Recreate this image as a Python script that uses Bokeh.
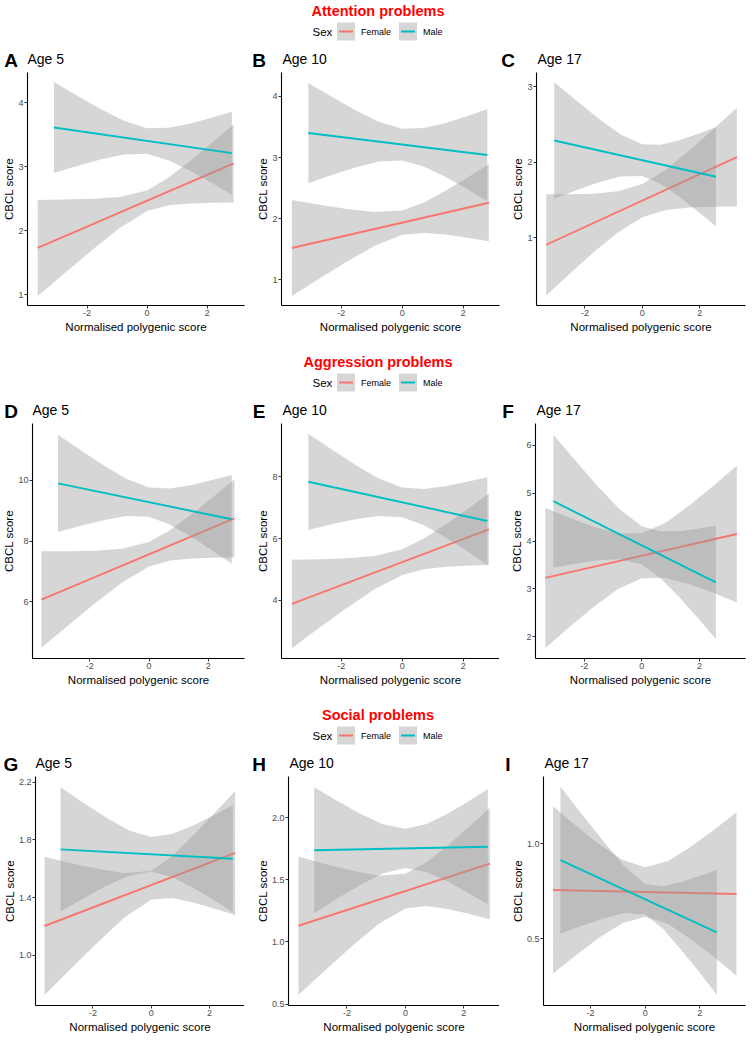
from bokeh.plotting import figure
from bokeh.layouts import column, row
from bokeh.models import Range1d, FixedTicker, NumeralTickFormatter
from bokeh.embed import file_html
from bokeh.resources import INLINE
from bokeh.core.properties import value

FONT = "Liberation Sans"
FEMALE_COLOR = "#F8766D"
MALE_COLOR = "#00BFC4"
BAND_COLOR = "#999999"

SECTION_TITLES = ["Attention problems", "Aggression problems", "Social problems"]
PANEL_LETTERS = [["A", "B", "C"], ["D", "E", "F"], ["G", "H", "I"]]
AGE_LABELS = ["Age 5", "Age 10", "Age 17"]
LEGEND_TITLE = "Sex"
SEX_LABELS = ["Female", "Male"]
X_LABEL = "Normalised polygenic score"
Y_LABEL = "CBCL score"
X_TICKS = [-2, 0, 2]

# ---- Attention problems ----
A_F_X = [-3.64, -2.73, -1.82, -0.91, 0.0, 0.72, 1.44, 2.16, 2.88]
A_F_LO = [0.98, 1.342, 1.699, 2.040, 2.307, 2.396, 2.423, 2.434, 2.44]
A_F_HI = [2.48, 2.486, 2.499, 2.526, 2.627, 2.830, 3.093, 3.374, 3.66]
A_F_FIT = [1.73, 3.05]
A_M_X = [-3.10, -2.325, -1.55, -0.775, 0.0, 0.705, 1.41, 2.115, 2.82]
A_M_LO = [2.90, 3.009, 3.110, 3.190, 3.200, 3.101, 2.939, 2.756, 2.565]
A_M_HI = [4.32, 4.107, 3.900, 3.716, 3.600, 3.605, 3.671, 3.758, 3.855]
A_M_FIT = [3.61, 3.21]
A_YTICKS = [1, 2, 3, 4]

B_F_X = [-3.62, -2.715, -1.81, -0.905, 0.0, 0.71, 1.42, 2.13, 2.84]
B_F_LO = [0.735, 1.021, 1.298, 1.555, 1.735, 1.766, 1.739, 1.688, 1.63]
B_F_HI = [2.305, 2.227, 2.156, 2.107, 2.135, 2.266, 2.457, 2.670, 2.89]
B_F_FIT = [1.52, 2.26]
B_M_X = [-3.08, -2.31, -1.54, -0.77, 0.0, 0.70, 1.40, 2.09, 2.79]
B_M_LO = [2.58, 2.714, 2.838, 2.933, 2.951, 2.854, 2.688, 2.495, 2.29]
B_M_HI = [4.22, 3.992, 3.774, 3.583, 3.471, 3.482, 3.562, 3.671, 3.79]
B_M_FIT = [3.40, 3.04]
B_YTICKS = [1, 2, 3, 4]

C_F_X = [-3.35, -2.51, -1.68, -0.84, 0.0, 0.825, 1.65, 2.475, 3.30]
C_F_LO = [0.24, 0.533, 0.816, 1.077, 1.274, 1.369, 1.403, 1.414, 1.415]
C_F_HI = [1.58, 1.579, 1.586, 1.619, 1.714, 1.907, 2.161, 2.438, 2.725]
C_F_FIT = [0.91, 2.07]
C_M_X = [-3.07, -2.30, -1.54, -0.77, 0.0, 0.64, 1.29, 1.93, 2.57]
C_M_LO = [1.52, 1.630, 1.734, 1.814, 1.819, 1.713, 1.544, 1.355, 1.155]
C_M_HI = [3.06, 2.818, 2.586, 2.374, 2.239, 2.235, 2.294, 2.375, 2.465]
C_M_FIT = [2.29, 1.81]
C_YTICKS = [1, 2, 3]

# ---- Aggression problems ----
D_F_X = [-3.63, -2.72, -1.82, -0.91, 0.0, 0.72, 1.44, 2.16, 2.88]
D_F_LO = [4.495, 5.235, 5.957, 6.641, 7.169, 7.361, 7.430, 7.456, 7.465]
D_F_HI = [7.665, 7.671, 7.687, 7.749, 7.969, 8.367, 8.890, 9.454, 10.035]
D_F_FIT = [6.08, 8.75]
D_M_X = [-3.07, -2.30, -1.54, -0.77, 0.0, 0.70, 1.40, 2.09, 2.79]
D_M_LO = [8.30, 8.504, 8.690, 8.824, 8.802, 8.550, 8.160, 7.721, 7.26]
D_M_HI = [11.50, 10.986, 10.494, 10.050, 9.762, 9.732, 9.840, 10.001, 10.18]
D_M_FIT = [9.90, 8.72]
D_YTICKS = [6, 8, 10]

E_F_X = [-3.62, -2.72, -1.81, -0.91, 0.0, 0.71, 1.42, 2.13, 2.84]
E_F_LO = [2.445, 3.105, 3.754, 4.353, 4.816, 5.002, 5.083, 5.121, 5.14]
E_F_HI = [5.315, 5.329, 5.362, 5.437, 5.656, 6.002, 6.453, 6.947, 7.46]
E_F_FIT = [3.88, 6.30]
E_M_X = [-3.08, -2.31, -1.54, -0.77, 0.0, 0.70, 1.40, 2.09, 2.79]
E_M_LO = [6.28, 6.461, 6.623, 6.733, 6.693, 6.437, 6.048, 5.610, 5.15]
E_M_HI = [9.40, 8.885, 8.391, 7.947, 7.653, 7.607, 7.694, 7.832, 7.99]
E_M_FIT = [7.84, 6.57]
E_YTICKS = [4, 6, 8]

F_F_X = [-3.35, -2.51, -1.68, -0.84, 0.0, 0.825, 1.65, 2.475, 3.30]
F_F_LO = [1.77, 2.208, 2.624, 2.993, 3.221, 3.227, 3.097, 2.919, 2.72]
F_F_HI = [4.69, 4.484, 4.296, 4.159, 4.161, 4.383, 4.739, 5.145, 5.57]
F_F_FIT = [3.23, 4.145]
F_M_X = [-3.07, -2.30, -1.54, -0.77, 0.0, 0.64, 1.29, 1.93, 2.57]
F_M_LO = [3.445, 3.527, 3.597, 3.620, 3.508, 3.229, 2.837, 2.405, 1.957]
F_M_HI = [6.215, 5.671, 5.145, 4.660, 4.308, 4.203, 4.205, 4.253, 4.317]
F_M_FIT = [4.83, 3.137]
F_YTICKS = [2, 3, 4, 5, 6]

# ---- Social problems ----
G_F_X = [-3.66, -2.75, -1.83, -0.92, 0.0, 0.72, 1.44, 2.16, 2.88]
G_F_LO = [0.725, 0.909, 1.091, 1.262, 1.387, 1.398, 1.367, 1.325, 1.280]
G_F_HI = [1.683, 1.639, 1.601, 1.570, 1.587, 1.688, 1.831, 1.983, 2.140]
G_F_FIT = [1.204, 1.71]
G_M_X = [-3.11, -2.33, -1.56, -0.78, 0.0, 0.70, 1.40, 2.10, 2.80]
G_M_LO = [1.305, 1.394, 1.479, 1.551, 1.581, 1.544, 1.473, 1.389, 1.300]
G_M_HI = [2.165, 2.058, 1.957, 1.867, 1.821, 1.842, 1.897, 1.967, 2.040]
G_M_FIT = [1.735, 1.67]
G_YTICKS = [1.0, 1.4, 1.8, 2.2]

H_F_X = [-3.66, -2.75, -1.83, -0.92, 0.0, 0.72, 1.44, 2.17, 2.89]
H_F_LO = [0.573, 0.771, 0.966, 1.145, 1.269, 1.288, 1.264, 1.226, 1.181]
H_F_HI = [1.687, 1.627, 1.574, 1.533, 1.549, 1.640, 1.774, 1.924, 2.079]
H_F_FIT = [1.13, 1.63]
H_M_X = [-3.12, -2.34, -1.56, -0.78, 0.0, 0.70, 1.41, 2.12, 2.82]
H_M_LO = [1.230, 1.347, 1.456, 1.550, 1.595, 1.564, 1.489, 1.398, 1.300]
H_M_HI = [2.244, 2.135, 2.032, 1.946, 1.909, 1.946, 2.027, 2.126, 2.230]
H_M_FIT = [1.737, 1.765]
H_YTICKS = [0.5, 1.0, 1.5, 2.0]

I_F_X = [-3.37, -2.53, -1.69, -0.84, 0.0, 0.84, 1.67, 2.51, 3.34]
I_F_LO = [0.317, 0.413, 0.505, 0.582, 0.616, 0.578, 0.498, 0.405, 0.306]
I_F_HI = [1.197, 1.095, 0.999, 0.916, 0.876, 0.910, 0.984, 1.073, 1.166]
I_F_FIT = [0.757, 0.736]
I_M_X = [-3.10, -2.33, -1.55, -0.78, 0.0, 0.66, 1.31, 1.97, 2.62]
I_M_LO = [0.527, 0.568, 0.605, 0.636, 0.628, 0.551, 0.443, 0.326, 0.206]
I_M_HI = [1.301, 1.158, 1.017, 0.884, 0.788, 0.777, 0.799, 0.830, 0.862]
I_M_FIT = [0.914, 0.534]
I_YTICKS = [0.5, 1.0]

# axis limits (ggplot-style expanded ranges)
X_LIMS = {"A": (-3.98, 3.24), "B": (-3.96, 3.19), "C": (-3.69, 3.60),
          "D": (-3.93, 3.22), "E": (-3.96, 3.19), "F": (-3.69, 3.60),
          "G": (-3.97, 3.20), "H": (-4.00, 3.22), "I": (-3.72, 3.67)}
Y_LIMS = {"A": (0.83, 4.47), "B": (0.58, 4.39), "C": (0.106, 3.19),
          "D": (4.14, 11.87), "E": (2.11, 9.73), "F": (1.55, 6.45),
          "G": (0.653, 2.24), "H": (0.489, 2.33), "I": (0.149, 1.354)}

PANELS = {
    "A": (A_F_X, A_F_LO, A_F_HI, A_F_FIT, A_M_X, A_M_LO, A_M_HI, A_M_FIT, A_YTICKS, "0"),
    "B": (B_F_X, B_F_LO, B_F_HI, B_F_FIT, B_M_X, B_M_LO, B_M_HI, B_M_FIT, B_YTICKS, "0"),
    "C": (C_F_X, C_F_LO, C_F_HI, C_F_FIT, C_M_X, C_M_LO, C_M_HI, C_M_FIT, C_YTICKS, "0"),
    "D": (D_F_X, D_F_LO, D_F_HI, D_F_FIT, D_M_X, D_M_LO, D_M_HI, D_M_FIT, D_YTICKS, "0"),
    "E": (E_F_X, E_F_LO, E_F_HI, E_F_FIT, E_M_X, E_M_LO, E_M_HI, E_M_FIT, E_YTICKS, "0"),
    "F": (F_F_X, F_F_LO, F_F_HI, F_F_FIT, F_M_X, F_M_LO, F_M_HI, F_M_FIT, F_YTICKS, "0"),
    "G": (G_F_X, G_F_LO, G_F_HI, G_F_FIT, G_M_X, G_M_LO, G_M_HI, G_M_FIT, G_YTICKS, "0.0"),
    "H": (H_F_X, H_F_LO, H_F_HI, H_F_FIT, H_M_X, H_M_LO, H_M_HI, H_M_FIT, H_YTICKS, "0.0"),
    "I": (I_F_X, I_F_LO, I_F_HI, I_F_FIT, I_M_X, I_M_LO, I_M_HI, I_M_FIT, I_YTICKS, "0.0"),
}

# layout (pixels)
TOTAL_W = 747
HEADER_H = 72
ROW_WIDTHS = [[245, 255, 247], [245, 254, 248], [244, 255, 248]]
ROW_MBL = [[26, 36, 36], [31, 36, 36], [34, 44, 44]]
ROW_MBR = [[1, 1, 2], [1, 0, 2], [0, 0, 2]]
ROW_FRAME_H = [233, 235, 229]
ROW_MBB = [46, 46, 32]
LETTER_CX = [10.5, 258.5, 507.5]


def make_header(title, letters, age_xs):
    h = figure(width=TOTAL_W, height=HEADER_H, x_range=Range1d(0, TOTAL_W),
               y_range=Range1d(HEADER_H, 0), output_backend="svg",
               toolbar_location=None, title=None, min_border=0,
               x_axis_location=None, y_axis_location=None)
    h.grid.visible = False
    h.outline_line_color = None
    h.text(x=[377.5], y=[10], text=[title], text_font=value(FONT),
           text_font_size="14.5px", text_font_style="bold", text_color="#FF0000",
           text_align="center", text_baseline="middle")
    # legend
    h.text(x=[312], y=[31], text=[LEGEND_TITLE], text_font=value(FONT),
           text_font_size="11.5px", text_color="black", text_align="left",
           text_baseline="middle")
    key_left = [336.5, 398.5]
    for kl, lab, col in zip(key_left, SEX_LABELS, [FEMALE_COLOR, MALE_COLOR]):
        h.quad(left=[kl], right=[kl + 18], top=[22], bottom=[40],
               fill_color=BAND_COLOR, fill_alpha=0.4, line_color=None)
        h.segment(x0=[kl + 2], x1=[kl + 16], y0=[31], y1=[31],
                  line_color=col, line_width=2)
        h.text(x=[kl + 24], y=[31.5], text=[lab], text_font=value(FONT),
               text_font_size="9px", text_color="black", text_align="left",
               text_baseline="middle")
    h.text(x=LETTER_CX, y=[59.5] * 3, text=letters, text_font=value(FONT),
           text_font_size="19px", text_font_style="bold", text_color="black",
           text_align="center", text_baseline="middle")
    h.text(x=age_xs, y=[58] * 3, text=AGE_LABELS, text_font=value(FONT),
           text_font_size="14px", text_color="black", text_align="left",
           text_baseline="middle")
    return h


def make_panel(key, width, mbl, mbr, frame_h, mbb):
    (fx, flo, fhi, ffit, mx, mlo, mhi, mfit, yticks, fmt) = PANELS[key]
    p = figure(width=width, height=frame_h + mbb, x_range=Range1d(*X_LIMS[key]),
               y_range=Range1d(*Y_LIMS[key]), output_backend="svg",
               toolbar_location=None, title=None, min_border=0,
               min_border_left=mbl, min_border_right=mbr, min_border_top=0,
               min_border_bottom=mbb)
    p.grid.visible = False
    p.outline_line_color = None
    for x, lo, hi, fit, col in [(fx, flo, fhi, ffit, FEMALE_COLOR),
                                (mx, mlo, mhi, mfit, MALE_COLOR)]:
        p.varea(x=x, y1=lo, y2=hi, fill_color=BAND_COLOR, fill_alpha=0.4)
        p.line(x=[x[0], x[-1]], y=fit, line_color=col, line_width=1.9)
    p.xaxis.ticker = FixedTicker(ticks=X_TICKS)
    p.yaxis.ticker = FixedTicker(ticks=yticks)
    p.xaxis.formatter = NumeralTickFormatter(format="0")
    p.yaxis.formatter = NumeralTickFormatter(format=fmt)
    p.xaxis.axis_label = X_LABEL
    p.yaxis.axis_label = Y_LABEL
    for ax in (p.xaxis[0], p.yaxis[0]):
        ax.axis_line_color = "black"
        ax.axis_line_width = 1.1
        ax.major_tick_line_color = "#333333"
        ax.major_tick_out = 3
        ax.major_tick_in = 0
        ax.minor_tick_line_color = None
        ax.major_label_text_font = FONT
        ax.major_label_text_font_size = "9px"
        ax.major_label_text_color = "#4D4D4D"
        ax.major_label_standoff = 1
        ax.axis_label_text_font = FONT
        ax.axis_label_text_font_size = "11.5px"
        ax.axis_label_text_font_style = "normal"
        ax.axis_label_text_color = "black"
        ax.axis_label_standoff = 2
    p.yaxis.axis_label_standoff = 0
    return p


blocks = []
for r in range(3):
    widths = ROW_WIDTHS[r]
    mbls = ROW_MBL[r]
    starts = [0, widths[0], widths[0] + widths[1]]
    age_xs = [s + m + 1 for s, m in zip(starts, mbls)]
    blocks.append(make_header(SECTION_TITLES[r], PANEL_LETTERS[r], age_xs))
    panels = [make_panel(PANEL_LETTERS[r][c], widths[c], mbls[c], ROW_MBR[r][c],
                         ROW_FRAME_H[r], ROW_MBB[r]) for c in range(3)]
    blocks.append(row(*panels))

layout = column(*blocks)

open("out.html", "w").write(file_html(layout, INLINE))
